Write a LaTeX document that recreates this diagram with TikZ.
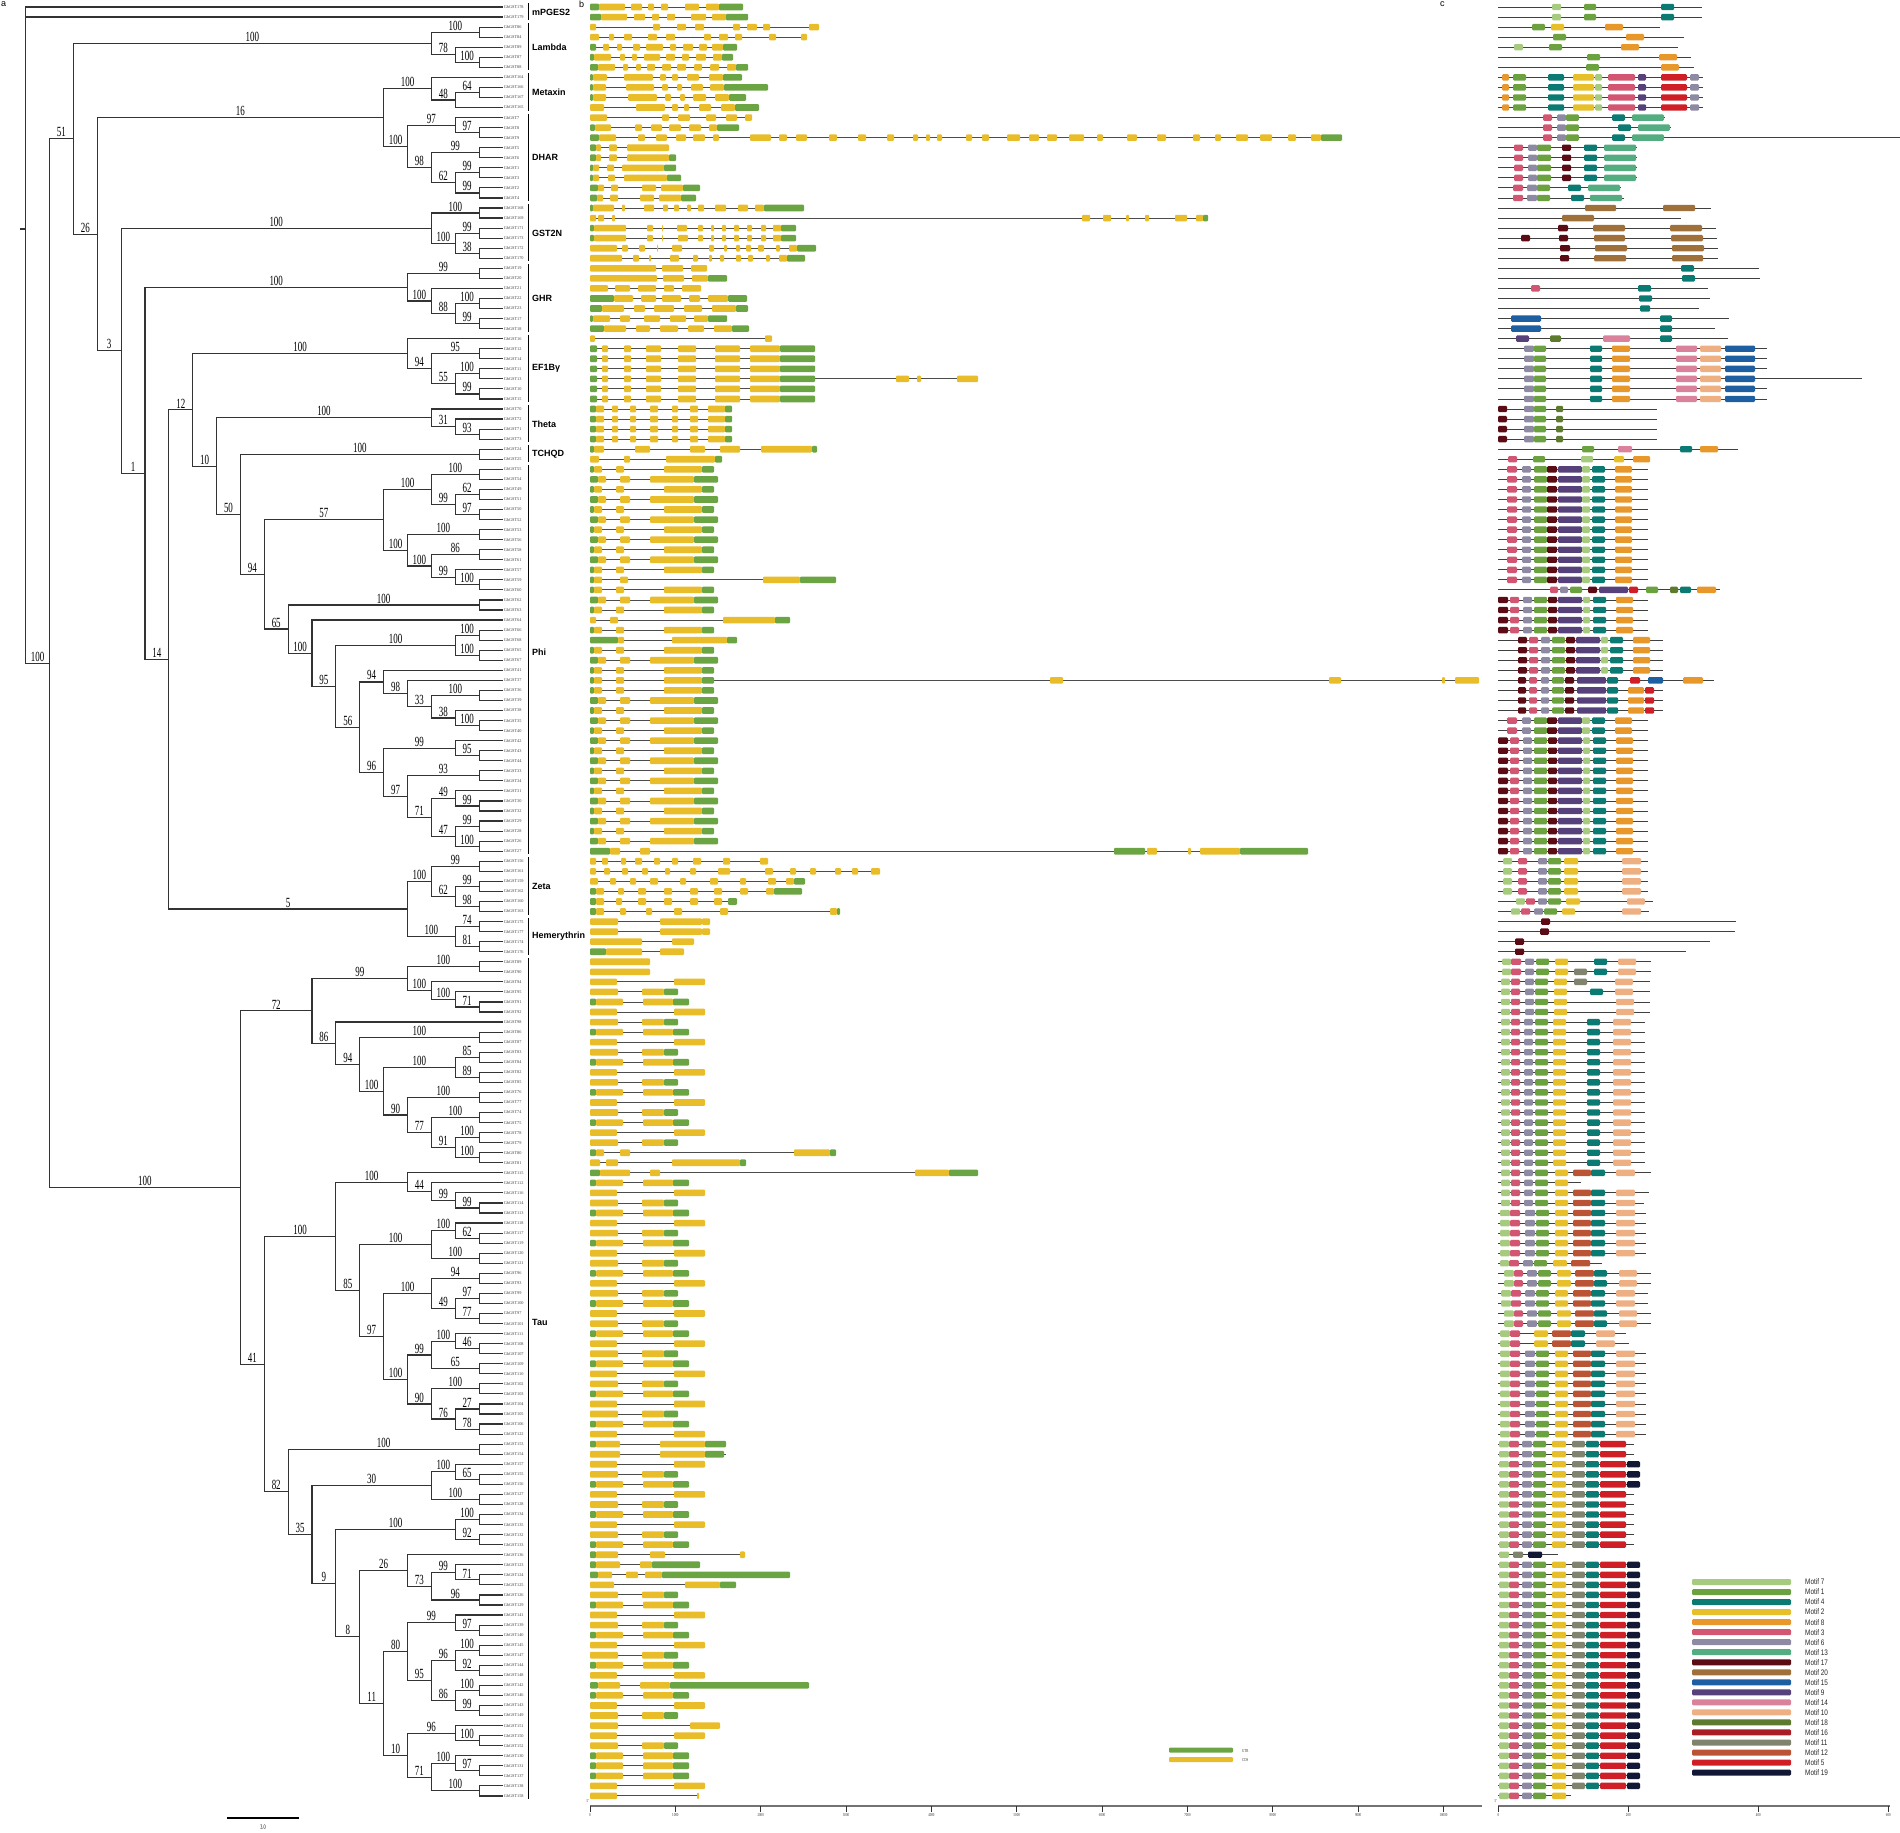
\documentclass[tikz,border=0pt]{standalone}
\usepackage{fontspec}
\setmainfont{Liberation Serif}
\setsansfont{Liberation Sans}
\usepackage{graphicx}
\usetikzlibrary{calc}
\definecolor{treec}{HTML}{333333}
\definecolor{utrc}{HTML}{6BA443}
\definecolor{cdsc}{HTML}{E8BD29}
\definecolor{mc7}{HTML}{A6CA7E}
\definecolor{mc1}{HTML}{6BA23F}
\definecolor{mc4}{HTML}{0B7A72}
\definecolor{mc2}{HTML}{E7BF2A}
\definecolor{mc8}{HTML}{E8972A}
\definecolor{mc3}{HTML}{D25671}
\definecolor{mc6}{HTML}{8E8AA4}
\definecolor{mc13}{HTML}{54AD81}
\definecolor{mc17}{HTML}{5A0B13}
\definecolor{mc20}{HTML}{A0703B}
\definecolor{mc15}{HTML}{1D5FA0}
\definecolor{mc9}{HTML}{57417B}
\definecolor{mc14}{HTML}{DA829B}
\definecolor{mc10}{HTML}{EEAF83}
\definecolor{mc18}{HTML}{5E7A2F}
\definecolor{mc16}{HTML}{A91E24}
\definecolor{mc11}{HTML}{80836E}
\definecolor{mc12}{HTML}{BB5435}
\definecolor{mc5}{HTML}{D01E27}
\definecolor{mc19}{HTML}{121735}

% bootstrap value, narrow serif
\newcommand\bsv[1]{\scalebox{0.64}[1]{#1}}
% internal node: name, height, child a, label a, child b, label b
\newcommand\tnode[6]{%
  \path let \p1=(#3), \p2=(#5) in ({503pt-23.87pt*#2},{0.5*(\y1+\y2)}) coordinate (#1);
  \draw[br] (#3) -| (#1) |- (#5);
  \path (#3) -- (#1 |- #3) node[bs] {\bsv{#4}};
  \path (#5) -- (#1 |- #5) node[bs] {\bsv{#6}};
}
% gene structure row: row, length, segments
\newcommand\gene[3]{%
  \pgfmathsetmacro\gy{7+10.05*#1}
  \edef\glist{#3}
  \draw[intr] (590,\gy) -- (590+#2,\gy);
  \foreach \a/\b/\t in \glist {\fill[\t] (590+\a,\gy-3.3) rectangle (590+\b,\gy+3.3);}
}
% motif row: row, length, motifs
\newcommand\motifs[3]{%
  \pgfmathsetmacro\gy{7+10.05*#1}
  \edef\glist{#3}
  \draw[mline] (1498,\gy) -- (1498+#2,\gy);
  \foreach \a/\b/\t in \glist {\fill[mo=\t] (1498+\a,\gy-3.2) rectangle (1498+\b,\gy+3.2);}
}
\def\gEF{0/7/ut,12/18/cd,34/41/cd,56/71/cd,88/106/cd,125/150/cd,160/190/cd,190/225/ut}
\def\gTH{0/6/ut,6/14/cd,22/28/cd,40/46/cd,60/68/cd,82/88/cd,100/108/cd,118/135/cd,135/142/ut}
\def\gPA{0/4/ut,4/12/cd,26/34/cd,74/112/cd,112/124/ut}
\def\gPB{0/8/ut,8/16/cd,30/40/cd,60/104/cd,104/128/ut}
\def\gPC{0/4/cd,18/26/cd,42/50/cd,70/106/cd}
\def\gTA{0/28/cd,52/74/cd,74/88/ut}
\def\gTB{0/6/ut,6/33/cd,53/83/cd,83/99/ut}
\def\gTC{0/27/cd,84/115/cd}
\def\mMX{4/11/8,15/28/1,50/66/4,75/96/2,97/104/7,110/137/3,140/148/9,163/189/5,192/201/6}
\def\mDH{16/25/3,30/39/6,39/53/1,64/73/17,86/99/4,106/138/13}
\def\mEF{26/36/6,36/48/1,92/104/4,114/132/8,178/199/14,202/223/10,227/257/15}
\def\mPH{9/19/3,24/33/6,36/49/1,49/59/17,60/84/9,84/92/7,94/107/4,117/134/8}
\def\mPI{0/10/17,12/21/3,25/34/6,36/49/1,50/59/17,60/84/9,85/92/7,95/108/4,118/135/8}
\def\mPS{20/29/17,31/40/3,43/52/6,54/67/1,68/77/17,78/102/9,103/110/7,112/125/4,135/152/8}
\def\mTA{3/12/7,13/22/3,26/35/6,37/50/1,55/68/2,89/102/4,115/133/10}
\def\mTB{1/11/7,11/21/3,24/34/6,35/48/1,54/68/2,74/87/11,88/101/4,102/128/5,129/142/19}
\def\mTD{1/11/7,11/21/3,24/34/6,35/48/1,54/68/2,74/87/11,88/101/4,102/128/5}
\def\mTC{2/12/7,12/22/3,27/37/6,38/51/1,57/70/2,75/93/12,93/107/4,118/137/10}

\begin{document}
\begin{tikzpicture}[x=1pt,y=-1pt,
  br/.style={draw=treec, line width=1.15pt},
  bs/.style={midway, above=1.6pt, inner sep=0pt, font=\fontsize{14}{14}\selectfont},
  lf/.style={anchor=west, inner sep=0.6pt, text=black!75, font=\fontsize{4.3}{4.3}\selectfont},
  clb/.style={draw=black, line width=1pt},
  cl/.style={anchor=west, inner sep=0pt, font=\sffamily\bfseries\fontsize{9}{9}\selectfont},
  intr/.style={draw=black!70, line width=0.9pt},
  mline/.style={draw=black!75, line width=0.9pt},
  ut/.style={fill=utrc, rounded corners=1pt},
  cd/.style={fill=cdsc, rounded corners=1pt},
  mo/.style={fill=mc#1, rounded corners=1.2pt},
  axl/.style={draw=black!55, line width=1.4pt},
  tk/.style={draw=black!80, line width=0.8pt},
  tkl/.style={below=1pt, inner sep=0pt, font=\fontsize{4.5}{4.5}\selectfont, text=black!80},
  pl/.style={anchor=north west, inner sep=0pt, font=\sffamily\fontsize{9}{9}\selectfont}
]
\path[use as bounding box] (0,0) rectangle (1900,1832);

% leaves
\foreach \n [count=\k from 0] in {178,179,86,84,89,87,88,164,166,167,165,7,8,9,5,6,1,3,2,4,168,169,171,173,172,170,19,20,21,22,23,17,18,16,12,14,11,13,10,15,70,72,71,73,24,25,
  55,54,49,51,50,52,53,56,58,61,57,59,60,62,63,64,66,68,65,67,41,37,36,39,38,35,40,42,43,44,33,34,31,30,32,29,28,26,27,
  156,161,159,162,160,163,175,177,174,176,
  89,90,94,95,91,92,98,86,87,83,84,82,85,76,77,74,75,78,79,80,81,
  115,112,116,114,113,118,117,119,120,121,96,93,99,100,97,101,111,108,107,109,110,102,103,104,105,106,122,
  153,154,157,155,156,127,128,134,135,132,133,136,123,124,125,126,129,141,139,140,145,147,144,148,142,146,143,149,151,150,152,130,131,137,138,158}
  {\coordinate (l\k) at (503,{7+10.05*\k});
   \node[lf] (n\k) at (l\k) {GhGST\n};}

% Lambda, Metaxin, DHAR
\tnode{la1}{1}{l2}{}{l3}{}
\tnode{la2}{1}{l5}{}{l6}{}
\tnode{la3}{2}{l4}{}{la2}{100}
\tnode{lam}{3}{la1}{100}{la3}{78}
\tnode{me1}{1}{l8}{}{l9}{}
\tnode{me2}{2}{me1}{64}{l10}{}
\tnode{met}{3}{l7}{}{me2}{48}
\tnode{dh1}{1}{l12}{}{l13}{}
\tnode{dh2}{2}{l11}{}{dh1}{97}
\tnode{dh3}{1}{l14}{}{l15}{}
\tnode{dh4}{1}{l16}{}{l17}{}
\tnode{dh5}{1}{l18}{}{l19}{}
\tnode{dh6}{2}{dh4}{99}{dh5}{99}
\tnode{dh7}{3}{dh3}{99}{dh6}{62}
\tnode{dha}{4}{dh2}{97}{dh7}{98}
\tnode{n16}{5}{met}{100}{dha}{100}
% GST2N, GHR, EF1By, Theta
\tnode{gs1}{1}{l20}{}{l21}{}
\tnode{gs2}{1}{l22}{}{l23}{}
\tnode{gs3}{1}{l24}{}{l25}{}
\tnode{gs4}{2}{gs2}{99}{gs3}{38}
\tnode{gst}{3}{gs1}{100}{gs4}{100}
\tnode{gh1}{1}{l26}{}{l27}{}
\tnode{gh2}{1}{l29}{}{l30}{}
\tnode{gh3}{1}{l31}{}{l32}{}
\tnode{gh4}{2}{gh2}{100}{gh3}{99}
\tnode{gh5}{3}{l28}{}{gh4}{88}
\tnode{ghr}{4}{gh1}{99}{gh5}{100}
\tnode{ef1}{1}{l34}{}{l35}{}
\tnode{ef2}{1}{l36}{}{l37}{}
\tnode{ef3}{1}{l38}{}{l39}{}
\tnode{ef4}{2}{ef2}{100}{ef3}{99}
\tnode{ef5}{3}{ef1}{95}{ef4}{55}
\tnode{efb}{4}{l33}{}{ef5}{94}
\tnode{th1}{1}{l42}{}{l43}{}
\tnode{th2}{2}{l41}{}{th1}{93}
\tnode{tht}{3}{l40}{}{th2}{31}
\tnode{tch}{1}{l44}{}{l45}{}
% Phi
\tnode{ph1}{1}{l46}{}{l47}{}
\tnode{ph2}{1}{l48}{}{l49}{}
\tnode{ph3}{1}{l50}{}{l51}{}
\tnode{ph4}{2}{ph2}{62}{ph3}{97}
\tnode{ph5}{3}{ph1}{100}{ph4}{99}
\tnode{ph6}{1}{l52}{}{l53}{}
\tnode{ph7}{1}{l54}{}{l55}{}
\tnode{ph8}{1}{l57}{}{l58}{}
\tnode{ph9}{2}{l56}{}{ph8}{100}
\tnode{ph10}{3}{ph7}{86}{ph9}{99}
\tnode{ph11}{4}{ph6}{100}{ph10}{100}
\tnode{ph12}{5}{ph5}{100}{ph11}{100}
\tnode{ph13}{1}{l59}{}{l60}{}
\tnode{ph14}{1}{l62}{}{l63}{}
\tnode{ph15}{1}{l64}{}{l65}{}
\tnode{ph16}{2}{ph14}{100}{ph15}{100}
\tnode{ph17}{1}{l68}{}{l69}{}
\tnode{ph18}{1}{l71}{}{l72}{}
\tnode{ph19}{2}{l70}{}{ph18}{100}
\tnode{ph20}{3}{ph17}{100}{ph19}{38}
\tnode{ph21}{4}{l67}{}{ph20}{33}
\tnode{ph22}{5}{l66}{}{ph21}{98}
\tnode{ph23}{1}{l74}{}{l75}{}
\tnode{ph24}{2}{l73}{}{ph23}{95}
\tnode{ph25}{1}{l76}{}{l77}{}
\tnode{ph26}{1}{l79}{}{l80}{}
\tnode{ph27}{2}{l78}{}{ph26}{99}
\tnode{ph28}{1}{l81}{}{l82}{}
\tnode{ph29}{1}{l83}{}{l84}{}
\tnode{ph30}{2}{ph28}{99}{ph29}{100}
\tnode{ph31}{3}{ph27}{49}{ph30}{47}
\tnode{ph32}{4}{ph25}{93}{ph31}{71}
\tnode{ph33}{5}{ph24}{99}{ph32}{97}
\tnode{ph34}{6}{ph22}{94}{ph33}{96}
\tnode{ph35}{7}{ph16}{100}{ph34}{56}
\tnode{ph36}{8}{l61}{}{ph35}{95}
\tnode{ph37}{9}{ph13}{100}{ph36}{100}
\tnode{ph38}{10}{ph12}{57}{ph37}{65}
\tnode{n50}{11}{tch}{100}{ph38}{94}
\tnode{n10}{12}{tht}{100}{n50}{50}
\tnode{n12}{13}{efb}{100}{n10}{10}
% Zeta, Hemerythrin
\tnode{ze1}{1}{l85}{}{l86}{}
\tnode{ze2}{1}{l87}{}{l88}{}
\tnode{ze3}{1}{l89}{}{l90}{}
\tnode{ze4}{2}{ze2}{99}{ze3}{98}
\tnode{zet}{3}{ze1}{99}{ze4}{62}
\tnode{he1}{1}{l91}{}{l92}{}
\tnode{he2}{1}{l93}{}{l94}{}
\tnode{hem}{2}{he1}{74}{he2}{81}
\tnode{n5}{4}{zet}{100}{hem}{100}
\tnode{n14}{14}{n12}{12}{n5}{5}
\tnode{n1}{15}{ghr}{100}{n14}{14}
\tnode{n3}{16}{gst}{100}{n1}{1}
\tnode{n26}{17}{n16}{16}{n3}{3}
\tnode{n51}{18}{lam}{100}{n26}{26}
% Tau
\tnode{ta1}{1}{l95}{}{l96}{}
\tnode{ta2}{1}{l99}{}{l100}{}
\tnode{ta3}{2}{l98}{}{ta2}{71}
\tnode{ta4}{3}{l97}{}{ta3}{100}
\tnode{ta5}{4}{ta1}{100}{ta4}{100}
\tnode{ta6}{1}{l102}{}{l103}{}
\tnode{ta7}{1}{l104}{}{l105}{}
\tnode{ta8}{1}{l106}{}{l107}{}
\tnode{ta9}{2}{ta7}{85}{ta8}{89}
\tnode{ta10}{1}{l108}{}{l109}{}
\tnode{ta11}{1}{l110}{}{l111}{}
\tnode{ta12}{1}{l112}{}{l113}{}
\tnode{ta13}{1}{l114}{}{l115}{}
\tnode{ta14}{2}{ta12}{100}{ta13}{100}
\tnode{ta15}{3}{ta11}{100}{ta14}{91}
\tnode{ta16}{4}{ta10}{100}{ta15}{77}
\tnode{ta17}{5}{ta9}{100}{ta16}{90}
\tnode{ta18}{6}{ta6}{100}{ta17}{100}
\tnode{ta19}{7}{l101}{}{ta18}{94}
\tnode{ta20}{8}{ta5}{99}{ta19}{86}
\tnode{tb1}{1}{l119}{}{l120}{}
\tnode{tb2}{2}{l118}{}{tb1}{99}
\tnode{tb3}{3}{l117}{}{tb2}{99}
\tnode{tb4}{4}{l116}{}{tb3}{44}
\tnode{tb5}{1}{l122}{}{l123}{}
\tnode{tb6}{2}{l121}{}{tb5}{62}
\tnode{tb7}{1}{l124}{}{l125}{}
\tnode{tb8}{3}{tb6}{100}{tb7}{100}
\tnode{tb9}{1}{l126}{}{l127}{}
\tnode{tb10}{1}{l128}{}{l129}{}
\tnode{tb11}{1}{l130}{}{l131}{}
\tnode{tb12}{2}{tb10}{97}{tb11}{77}
\tnode{tb13}{3}{tb9}{94}{tb12}{49}
\tnode{tb14}{1}{l133}{}{l134}{}
\tnode{tb15}{2}{l132}{}{tb14}{46}
\tnode{tb16}{1}{l135}{}{l136}{}
\tnode{tb17}{3}{tb15}{100}{tb16}{65}
\tnode{tb18}{1}{l137}{}{l138}{}
\tnode{tb19}{1}{l139}{}{l140}{}
\tnode{tb20}{1}{l141}{}{l142}{}
\tnode{tb21}{2}{tb19}{27}{tb20}{78}
\tnode{tb22}{3}{tb18}{100}{tb21}{76}
\tnode{tb23}{4}{tb17}{99}{tb22}{90}
\tnode{tb24}{5}{tb13}{100}{tb23}{100}
\tnode{tb25}{6}{tb8}{100}{tb24}{97}
\tnode{tb26}{7}{tb4}{100}{tb25}{85}
\tnode{tc1}{1}{l143}{}{l144}{}
\tnode{tc2}{1}{l146}{}{l147}{}
\tnode{tc3}{2}{l145}{}{tc2}{65}
\tnode{tc4}{1}{l148}{}{l149}{}
\tnode{tc5}{3}{tc3}{100}{tc4}{100}
\tnode{tc6}{1}{l150}{}{l151}{}
\tnode{tc7}{1}{l152}{}{l153}{}
\tnode{tc8}{2}{tc6}{100}{tc7}{92}
\tnode{tc9}{1}{l156}{}{l157}{}
\tnode{tc10}{2}{l155}{}{tc9}{71}
\tnode{tc11}{1}{l158}{}{l159}{}
\tnode{tc12}{3}{tc10}{99}{tc11}{96}
\tnode{tc13}{4}{l154}{}{tc12}{73}
\tnode{tc14}{1}{l161}{}{l162}{}
\tnode{tc15}{2}{l160}{}{tc14}{97}
\tnode{tc16}{1}{l163}{}{l164}{}
\tnode{tc17}{1}{l165}{}{l166}{}
\tnode{tc18}{2}{tc16}{100}{tc17}{92}
\tnode{tc19}{1}{l167}{}{l168}{}
\tnode{tc20}{1}{l169}{}{l170}{}
\tnode{tc21}{2}{tc19}{100}{tc20}{99}
\tnode{tc22}{3}{tc18}{96}{tc21}{86}
\tnode{tc23}{4}{tc15}{99}{tc22}{95}
\tnode{tc24}{1}{l172}{}{l173}{}
\tnode{tc25}{2}{l171}{}{tc24}{100}
\tnode{tc26}{1}{l175}{}{l176}{}
\tnode{tc27}{2}{l174}{}{tc26}{97}
\tnode{tc28}{1}{l177}{}{l178}{}
\tnode{tc29}{3}{tc27}{100}{tc28}{100}
\tnode{tc30}{4}{tc25}{96}{tc29}{71}
\tnode{tc31}{5}{tc23}{80}{tc30}{10}
\tnode{tc32}{6}{tc13}{26}{tc31}{11}
\tnode{tc33}{7}{tc8}{100}{tc32}{8}
\tnode{tc34}{8}{tc5}{30}{tc33}{9}
\tnode{tc35}{9}{tc1}{100}{tc34}{35}
\tnode{tb27}{10}{tb26}{100}{tc35}{82}
\tnode{tau}{11}{ta20}{72}{tb27}{41}
\tnode{nA}{19}{n51}{51}{tau}{100}
% root
\path let \p1=(l0), \p2=(l1), \p3=(nA) in (25.6pt,{(\y1+\y2+\y3)/3}) coordinate (root);
\draw[br] (l0) -| (root) |- (nA);
\draw[br] (l1) -- (l1 -| root);
\draw[br] (root) -- ++(-6,0);
\path (nA) -- (root |- nA) node[bs] {\bsv{100}};

% clade brackets
\foreach \fa/\fb/\nm/\tx/\dy in {0/1/mpg/mPGES2/0, 2/6/lam/Lambda/0, 7/10/met/Metaxin/0, 11/19/dha/DHAR/0,
  20/25/gst/GST2N/0, 26/32/ghr/GHR/0, 33/39/efb/EF1Bγ/0, 40/43/tht/Theta/0, 44/45/tch/TCHQD/0,
  46/84/phi/Phi/-8, 85/90/zet/Zeta/0, 91/94/hem/Hemerythrin/0, 95/178/tau/Tau/-56}
  {\draw[clb] ($(l\fa)+(25,-4)$) -- ($(l\fb)+(25,3)$);
   \node[cl] (c\nm) at ($(l\fa)!.5!(l\fb)+(29,\dy)$) {\tx};}

% scale bar
\draw[line width=1.3pt] (227,1818) coordinate (sb1) -- (299,1818) coordinate (sb2);
\node[font=\fontsize{7}{7}\selectfont, inner sep=0pt] (sbt) at (263,1827) {\scalebox{0.6}[1]{3.0}};

% panel letters
\node[pl] (pa) at (1,1) {a};
\node[pl] (pb) at (579,1) {b};
\node[pl] (pc) at (1440,1) {c};

% gene structures
\gene{0}{153}{0/9/ut,9/35/cd,41/52/cd,58/64/cd,71/78/cd,95/109/cd,116/129/cd,129/153/ut}
\gene{1}{158}{0/11/ut,11/37/cd,44/55/cd,62/69/cd,77/85/cd,101/116/cd,122/136/cd,136/158/ut}
\gene{2}{229}{0/6/cd,63/70/cd,87/96/cd,105/114/cd,143/150/cd,157/167/cd,173/180/cd,219/229/cd}
\gene{3}{217}{0/9/cd,19/24/cd,34/42/cd,58/67/cd,76/85/cd,114/121/cd,129/138/cd,145/152/cd,179/186/cd,211/217/cd}
\gene{4}{147}{0/6/ut,13/19/cd,27/32/cd,43/50/cd,56/73/cd,80/86/cd,93/103/cd,109/117/cd,122/133/cd,133/147/ut}
\gene{5}{143}{0/4/ut,4/21/cd,30/35/cd,42/47/cd,54/70/cd,76/85/cd,92/99/cd,106/116/cd,123/132/cd,132/143/ut}
\gene{6}{158}{0/8/ut,8/25/cd,33/38/cd,46/51/cd,57/65/cd,72/81/cd,87/96/cd,104/112/cd,120/129/cd,137/146/cd,146/158/ut}
\gene{7}{152}{0/3/ut,3/17/cd,34/63/cd,70/76/cd,82/88/cd,97/109/cd,119/133/cd,133/152/ut}
\gene{8}{178}{0/3/ut,3/16/cd,36/64/cd,72/78/cd,87/92/cd,101/113/cd,120/134/cd,134/178/ut}
\gene{9}{156}{0/3/ut,3/16/cd,38/67/cd,75/81/cd,90/95/cd,103/116/cd,125/139/cd,139/156/ut}
\gene{10}{169}{0/14/cd,46/75/cd,82/88/cd,94/99/cd,109/121/cd,131/145/cd,145/169/ut}
\gene{11}{162}{0/17/cd,72/79/cd,88/100/cd,116/126/cd,136/147/cd,155/162/cd}
\gene{12}{149}{0/5/ut,5/21/cd,45/52/cd,61/72/cd,79/91/cd,99/111/cd,119/127/cd,127/149/ut}
\gene{13}{752}{0/9/ut,9/26/cd,48/55/cd,66/77/cd,86/96/cd,103/115/cd,123/129/cd,160/181/cd,189/197/cd,206/217/cd,239/247/cd,268/276/cd,297/304/cd,323/328/cd,336/340/cd,347/352/cd,376/382/cd,392/399/cd,417/430/cd,439/449/cd,457/467/cd,479/494/cd,507/513/cd,537/547/cd,567/576/cd,603/610/cd,625/631/cd,646/658/cd,670/682/cd,698/706/cd,721/731/cd,731/752/ut}
\gene{14}{79}{0/6/ut,6/11/cd,19/27/cd,37/79/cd}
\gene{15}{86}{0/6/ut,6/11/cd,19/27/cd,37/79/cd,79/86/ut}
\gene{16}{86}{0/3/ut,3/9/cd,17/24/cd,32/74/cd,74/86/ut}
\gene{17}{91}{0/3/ut,3/9/cd,18/25/cd,34/77/cd,77/91/ut}
\gene{18}{110}{0/8/ut,8/14/cd,21/28/cd,52/66/cd,71/93/cd,93/110/ut}
\gene{19}{106}{0/7/ut,7/13/cd,20/28/cd,50/64/cd,69/91/cd,91/106/ut}
\gene{20}{214}{0/3/ut,3/24/cd,32/35/cd,54/64/cd,73/78/cd,84/89/cd,97/101/cd,108/114/cd,125/136/cd,148/158/cd,165/174/cd,174/214/ut}
\gene{21}{618}{0/6/cd,8/14/cd,22/25/cd,492/500/cd,513/521/cd,536/539/cd,555/559/cd,585/597/cd,606/613/cd,613/618/ut}
\gene{22}{206}{0/4/ut,4/36/cd,57/63/cd,72/73/cd,87/97/cd,108/113/cd,121/124/cd,132/136/cd,144/149/cd,157/162/cd,171/176/cd,183/191/cd,191/206/ut}
\gene{23}{206}{0/4/ut,4/36/cd,57/63/cd,72/73/cd,88/98/cd,108/113/cd,121/124/cd,132/136/cd,144/149/cd,157/162/cd,171/176/cd,183/191/cd,191/206/ut}
\gene{24}{226}{0/27/cd,32/38/cd,49/55/cd,67/68/cd,82/92/cd,119/124/cd,134/137/cd,146/150/cd,156/161/cd,168/174/cd,186/190/cd,199/207/cd,207/226/ut}
\gene{25}{215}{0/32/cd,43/49/cd,59/61/cd,80/89/cd,103/108/cd,119/122/cd,130/134/cd,146/151/cd,158/163/cd,176/180/cd,189/197/cd,197/215/ut}
\gene{26}{117}{0/66/cd,72/93/cd,101/117/cd}
\gene{27}{137}{0/67/cd,73/94/cd,102/118/cd,118/137/ut}
\gene{28}{111}{0/18/cd,25/40/cd,48/66/cd,74/84/cd,92/111/cd}
\gene{29}{157}{0/24/ut,24/43/cd,51/66/cd,72/91/cd,99/110/cd,118/138/cd,138/157/ut}
\gene{30}{158}{0/12/ut,12/34/cd,44/55/cd,64/84/cd,94/112/cd,122/146/cd,146/158/ut}
\gene{31}{137}{0/3/ut,3/20/cd,30/40/cd,54/70/cd,80/96/cd,104/118/cd,118/137/ut}
\gene{32}{159}{0/14/ut,14/36/cd,46/60/cd,70/88/cd,98/114/cd,124/142/cd,142/159/ut}
\gene{33}{182}{0/5/cd,175/182/cd}
\foreach \k in {34,35,36,38,39} {\gene{\k}{225}{\gEF}}
\gene{37}{388}{\gEF,306/319/cd,327/331/cd,367/388/cd}
\foreach \k in {40,...,43} {\gene{\k}{142}{\gTH}}
\gene{44}{227}{0/4/ut,4/14/cd,45/60/cd,100/115/cd,130/150/cd,171/222/cd,222/227/ut}
\gene{45}{132}{0/9/cd,34/40/cd,76/125/cd,125/132/ut}
\foreach \k in {46,48,50,52,54,56,58,60,62,64,66,68,70,72,74,76,78,80,82} {\gene{\k}{124}{\gPA}}
\foreach \k in {47,49,51,53,55,59,65,69,71,73,75,77,79,81,83} {\gene{\k}{128}{\gPB}}
\gene{57}{246}{0/4/ut,4/12/cd,30/38/cd,173/210/cd,210/246/ut}
\gene{61}{200}{0/6/cd,20/28/cd,133/185/cd,185/200/ut}
\gene{63}{147}{0/28/ut,28/34/cd,82/137/cd,137/147/ut}
\gene{67}{889}{\gPA,460/473/cd,739/751/cd,852/855/cd,865/889/cd}
\gene{84}{718}{0/20/ut,20/30/cd,50/60/cd,524/555/ut,557/567/cd,598/601/cd,610/650/cd,650/718/ut}
\gene{85}{178}{0/6/cd,12/18/cd,31/36/cd,45/52/cd,64/70/cd,82/88/cd,103/111/cd,133/140/cd,170/178/cd}
\gene{86}{290}{0/6/cd,14/20/cd,32/38/cd,52/58/cd,75/80/cd,100/106/cd,128/140/cd,175/183/cd,200/206/cd,220/226/cd,245/251/cd,262/268/cd,281/290/cd}
\gene{87}{215}{0/8/cd,20/26/cd,40/46/cd,60/68/cd,90/96/cd,120/128/cd,150/156/cd,178/186/cd,196/204/cd,204/215/ut}
\gene{88}{212}{0/6/ut,6/14/cd,28/34/cd,48/56/cd,74/82/cd,100/108/cd,124/132/cd,150/158/cd,176/184/cd,184/212/ut}
\gene{89}{147}{0/6/ut,6/14/cd,26/32/cd,48/56/cd,74/82/cd,100/108/cd,124/132/cd,138/147/ut}
\gene{90}{250}{0/6/ut,6/14/cd,30/36/cd,56/62/cd,84/92/cd,130/138/cd,240/247/cd,247/250/ut}
\gene{91}{120}{0/28/cd,70/112/cd,112/120/cd}
\gene{92}{120}{0/28/cd,70/112/cd,112/120/cd}
\gene{93}{104}{0/52/cd,82/104/cd}
\gene{94}{94}{0/16/ut,16/52/cd,70/94/cd}
\gene{95}{60}{0/60/cd}
\gene{96}{60}{0/60/cd}
\foreach \k in {98,101,104,107,110,113,119,122,125,128,131,134,137,140,146,149,152,158,161,164,170,173} {\gene{\k}{88}{\gTA}}
\foreach \k in {99,102,105,108,111,117,120,123,126,129,132,135,138,141,147,150,153,159,162,165,168,174,175,176} {\gene{\k}{99}{\gTB}}
\foreach \k in {97,100,103,106,109,112,118,121,124,127,130,133,136,139,142,145,148,151,160,163,166,169,172,177} {\gene{\k}{115}{\gTC}}
\gene{114}{246}{0/6/ut,6/14/cd,30/40/cd,204/240/cd,240/246/ut}
\gene{115}{156}{0/10/cd,16/28/cd,82/150/cd,150/156/ut}
\gene{116}{388}{0/10/ut,10/40/cd,60/70/cd,325/359/cd,359/388/ut}
\gene{143}{136}{0/6/ut,6/30/cd,70/115/cd,115/136/ut}
\gene{144}{136}{0/30/cd,70/115/cd,115/134/ut}
\gene{154}{155}{0/6/ut,6/28/cd,60/75/cd,150/155/cd}
\gene{155}{110}{0/6/ut,6/30/cd,50/62/cd,62/110/ut}
\gene{156}{200}{0/8/ut,8/22/cd,36/48/cd,55/72/cd,72/200/ut}
\gene{157}{146}{0/24/cd,95/130/cd,130/146/ut}
\gene{167}{219}{0/8/ut,8/30/cd,50/80/cd,80/219/ut}
\gene{171}{130}{0/28/cd,100/130/cd}
\gene{178}{109}{0/27/cd,107/109/cd}

% motifs
\motifs{0}{204}{54/63/7,86/98/1,163/176/4}
\motifs{1}{204}{54/63/7,86/98/1,163/176/4}
\motifs{2}{162}{34/47/1,53/66/2,107/125/8}
\motifs{3}{186}{55/68/1,128/146/8}
\motifs{4}{180}{16/25/7,51/64/1,123/141/8}
\motifs{5}{193}{89/102/1,161/179/8}
\motifs{6}{196}{88/101/1,163/181/8}
\foreach \k in {7,...,10} {\motifs{\k}{205}{\mMX}}
\motifs{11}{167}{45/54/3,59/68/6,68/81/1,114/127/4,134/166/13}
\motifs{12}{173}{45/54/3,59/68/6,68/81/1,120/133/4,140/172/13}
\motifs{13}{402}{45/54/3,59/68/6,68/81/1,114/127/4,134/166/13}
\foreach \k in {14,...,17} {\motifs{\k}{139}{\mDH}}
\motifs{18}{123}{15/25/3,29/39/6,39/52/1,70/83/4,90/122/13}
\motifs{19}{126}{15/25/3,29/39/6,39/52/1,73/86/4,92/124/13}
\motifs{20}{213}{87/118/20,165/197/20}
\motifs{21}{183}{64/96/20}
\motifs{22}{218}{60/70/17,95/127/20,172/204/20}
\motifs{23}{219}{23/32/17,61/70/17,96/127/20,173/205/20}
\motifs{24}{220}{62/72/17,97/129/20,174/206/20}
\motifs{25}{220}{62/71/17,96/128/20,174/205/20}
\motifs{26}{261}{183/196/4}
\motifs{27}{262}{184/197/4}
\motifs{28}{210}{33/42/3,140/153/4}
\motifs{29}{212}{141/154/4}
\motifs{30}{201}{142/152/4}
\motifs{31}{231}{13/43/15,162/174/4}
\motifs{32}{217}{13/43/15,162/174/4}
\motifs{33}{230}{18/31/9,52/63/18,105/132/14,162/174/4}
\foreach \k in {34,35,36,38,39} {\motifs{\k}{269}{\mEF}}
\motifs{37}{364}{\mEF}
\foreach \k in {40,...,43} {\motifs{\k}{159}{0/9/17,26/36/6,36/48/1,58/65/18}}
\motifs{44}{240}{84/96/1,120/134/14,182/194/4,202/220/8}
\motifs{45}{152}{10/19/3,35/47/1,83/95/7,116/126/2,135/152/8}
\foreach \k in {46,...,57,71,72} {\motifs{\k}{150}{\mPH}}
\motifs{58}{222}{52/60/3,62/70/6,72/84/1,90/99/17,101/130/9,131/140/5,148/160/1,172/180/18,182/193/4,199/218/8}
\foreach \k in {59,...,62,73,74,...,84} {\motifs{\k}{150}{\mPI}}
\foreach \k in {63,...,66} {\motifs{\k}{165}{\mPS}}
\motifs{67}{216}{20/28/17,31/39/3,43/51/6,54/66/1,67/76/17,79/108/9,109/120/4,132/142/5,150/165/15,185/205/8}
\foreach \k in {68,69,70} {\motifs{\k}{165}{20/28/17,31/39/3,43/51/6,54/66/1,67/76/17,79/108/9,109/120/4,130/146/8,147/156/5}}
\foreach \k in {85,...,88} {\motifs{\k}{150}{5/14/7,20/29/3,40/49/6,50/63/1,66/80/2,124/143/10}}
\motifs{89}{155}{18/27/7,28/37/3,40/49/6,50/63/1,68/82/2,129/147/10}
\motifs{90}{151}{13/22/7,23/32/3,36/45/6,46/59/1,64/77/2,124/143/10}
\motifs{91}{238}{43/52/17}
\motifs{92}{237}{42/51/17}
\motifs{93}{212}{17/26/17}
\motifs{94}{188}{17/26/17}
\motifs{95}{153}{4/13/7,13/23/3,27/36/6,38/51/1,57/70/2,96/109/4,120/138/10}
\motifs{96}{153}{4/13/7,13/23/3,27/36/6,38/51/1,57/70/2,76/89/11,96/109/4,120/138/10}
\motifs{97}{152}{3/12/7,13/22/3,27/36/6,37/50/1,56/69/2,76/89/11,117/135/10}
\motifs{98}{152}{3/12/7,13/22/3,27/36/6,37/50/1,56/69/2,92/105/4,117/135/10}
\motifs{99}{152}{3/12/7,13/22/3,27/36/6,37/50/1,56/69/2,118/136/10}
\motifs{100}{152}{3/12/7,13/22/3,27/36/6,37/50/1,56/69/2,118/136/10}
\foreach \k in {101,...,115} {\motifs{\k}{147}{\mTA}}
\motifs{116}{153}{3/12/7,13/22/3,26/35/6,37/50/1,57/70/2,75/93/12,93/107/4,118/137/10}
\motifs{117}{83}{3/12/7,13/22/3,26/35/6,37/50/1,57/70/2}
\motifs{118}{151}{3/12/7,13/22/3,26/35/6,37/50/1,57/70/2,75/93/12,93/107/4,118/137/10}
\motifs{119}{146}{3/12/7,13/22/3,26/35/6,37/50/1,57/70/2,75/93/12,93/107/4,118/137/10}
\foreach \k in {120,...,124} {\motifs{\k}{148}{\mTC}}
\motifs{125}{104}{2/11/7,11/21/3,25/35/6,36/49/1,55/69/2,73/92/12}
\foreach \k in {126,127,130,131} {\motifs{\k}{153}{6/16/7,16/25/3,29/39/6,40/53/1,59/73/2,77/96/12,96/109/4,121/139/10}}
\foreach \k in {128,129} {\motifs{\k}{150}{3/13/7,13/23/3,27/37/6,38/51/1,57/70/2,75/93/12,93/107/4,118/137/10}}
\motifs{132}{128}{2/12/7,12/22/3,36/50/2,54/73/12,73/87/4,98/117/10}
\motifs{133}{131}{2/12/7,12/22/3,36/50/2,54/73/12,73/87/4,98/117/10}
\foreach \k in {134,...,142} {\motifs{\k}{148}{\mTC}}
\foreach \k in {143,144,148,149,150,151,152,153} {\motifs{\k}{136}{\mTD}}
\foreach \k in {145,146,147,155,156,...,177} {\motifs{\k}{142}{\mTB}}
\motifs{154}{60}{1/11/7,15/25/11,30/44/19}
\motifs{178}{73}{1/11/7,11/21/3,24/34/6,35/48/1,54/68/2}

% axes
\draw[axl] (590,1806) coordinate (bx0) -- (1482,1806) coordinate (bx1);
\foreach \i/\v in {0/0,1/1000,2/2000,3/3000,4/4000,5/5000,6/6000,7/7000,8/8000,9/9000,10/10000}
  {\draw[tk] (590+85.35*\i,1806) -- ++(0,6) node[tkl] (bt\i) {\scalebox{0.7}[1]{\v}};}
\node[tkl, above=0pt] (b5) at (588,1802) {\scalebox{0.7}[1]{5'}};
\draw[axl] (1498,1806) coordinate (cx0) -- (1890,1806) coordinate (cx1);
\foreach \i/\v in {0/0,1/200,2/400,3/600}
  {\draw[tk] (1498.3+130*\i,1806) -- ++(0,6) node[tkl] (ct\i) {\scalebox{0.7}[1]{\v}};}
\node[tkl, above=0pt] (c5) at (1496,1802) {\scalebox{0.7}[1]{5'}};

% legends
\fill[ut] (1169,1747.5) rectangle (1233,1752.5);
\fill[cd] (1169,1757) rectangle (1233,1762);
\node[tkl, anchor=west] (lutr) at (1242,1750) {\scalebox{0.7}[1]{UTR}};
\node[tkl, anchor=west] (lcds) at (1242,1759.5) {\scalebox{0.7}[1]{CDS}};
\foreach \m [count=\i from 0] in {7,1,4,2,8,3,6,13,17,20,15,9,14,10,18,16,11,12,5,19}
  {\fill[mo=\m] (1692,{1582+10.03*\i-3}) rectangle (1791,{1582+10.03*\i+3});
   \node[anchor=west, inner sep=0pt, font=\sffamily\fontsize{8}{8}\selectfont, text=black!85] (lg\m) at (1805,{1582+10.03*\i}) {\scalebox{0.8}[1]{Motif \m}};}
\end{tikzpicture}
\end{document}
